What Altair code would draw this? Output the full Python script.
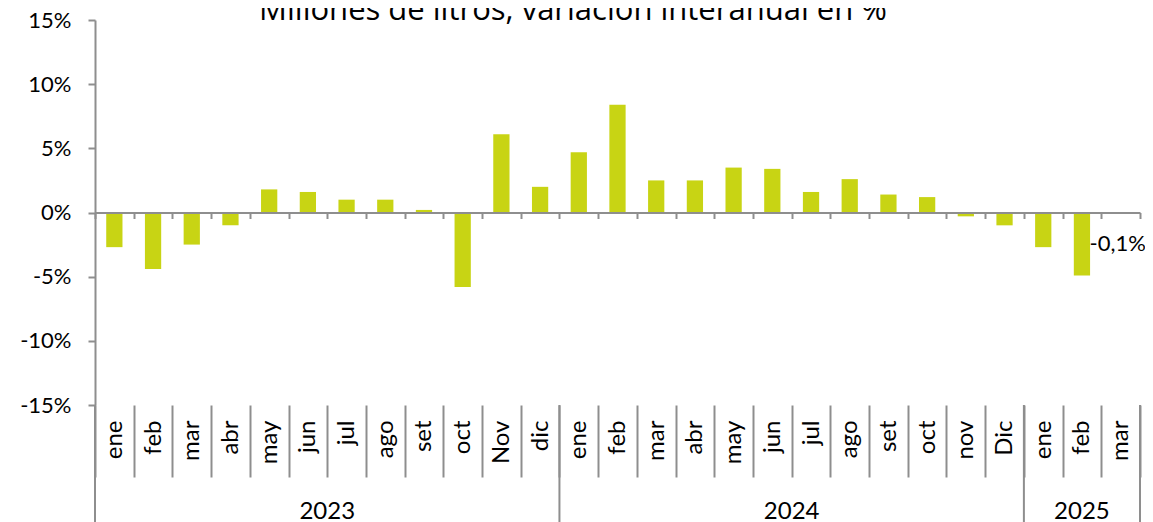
import altair as alt
import pandas as pd

# ---- data ----
months_2023 = ["ene", "feb", "mar", "abr", "may", "jun", "jul", "ago", "set", "oct", "Nov", "dic"]
months_2024 = ["ene", "feb", "mar", "abr", "may", "jun", "jul", "ago", "set", "oct", "nov", "Dic"]
months_2025 = ["ene", "feb", "mar"]
values_2023 = [-2.7, -4.4, -2.5, -1.0, 1.8, 1.6, 1.0, 1.0, 0.2, -5.8, 6.1, 2.0]
values_2024 = [4.7, 8.4, 2.5, 2.5, 3.5, 3.4, 1.6, 2.6, 1.4, 1.2, -0.3, -1.0]
values_2025 = [-2.7, -4.9, -0.1]
years = ["2023", "2024", "2025"]
y_ticks = [-15, -10, -5, 0, 5, 10, 15]
title_text = "Millones de litros, variación interanual en %"

# ---- styling ----
FONT = "Lato"
TITLE_FONT = "Open Sans"
BAR = "#C8D414"
GRAY = "#8E8E8E"
W, H = 1045, 385

rows = []
idx = 0
for yr, months, vals in zip(years, [months_2023, months_2024, months_2025],
                            [values_2023, values_2024, values_2025]):
    for m, v in zip(months, vals):
        rows.append({"cat": f"{m} {yr}", "month": m, "year": yr, "idx": idx,
                     "pos": idx + 0.5, "val": v,
                     "lab": f"{v:.1f}%".replace(".", ",")})
        idx += 1
df = pd.DataFrame(rows)
cats = list(df["cat"])
n = len(cats)

bounds = [0]
for months in [months_2023, months_2024, months_2025]:
    bounds.append(bounds[-1] + len(months))
yr_df = pd.DataFrame({"year": years,
                      "mid": [(bounds[i] + bounds[i + 1]) / 2 for i in range(3)]})
rule_df = pd.DataFrame({"b": bounds})

band = alt.Scale(domain=cats, paddingInner=0, paddingOuter=0)
quant = alt.Scale(domain=[0, n], nice=False, zero=False)
yscale = alt.Scale(domain=[-15, 15], nice=False, zero=False)

bars = alt.Chart(df).mark_bar(color=BAR, width=alt.RelativeBandSize(0.42)).encode(
    x=alt.X("cat:N", scale=band, sort=cats,
            axis=alt.Axis(orient="bottom", tickBand="extent", tickSize=72,
                          tickColor=GRAY, tickWidth=2, domain=False,
                          labelAngle=-90, labelPadding=-57,
                          labelAlign="right", labelBaseline="middle",
                          labelExpr="datum.value ? split(datum.value, ' ')[0] : ''",
                          labelFontSize=24, labelColor="black", labelFont=FONT,
                          title=None)),
    y=alt.Y("val:Q", scale=yscale,
            axis=alt.Axis(values=y_ticks, labelExpr="datum.value + '%'",
                          tickSize=7, tickColor=GRAY, tickWidth=2,
                          domainColor=GRAY, domainWidth=2,
                          labelFontSize=22, labelPadding=17, labelColor="black",
                          labelFont=FONT, title=None, grid=False)),
)

zero_axis = alt.Chart(df).mark_bar(opacity=0).encode(
    x=alt.X("cat:N", scale=band, sort=cats,
            axis=alt.Axis(orient="bottom", offset=-(H / 2), tickBand="extent",
                          tickSize=6, tickColor=GRAY, tickWidth=2,
                          domainColor=GRAY, domainWidth=2, labels=False,
                          title=None, zindex=1)),
    y=alt.Y("val:Q", scale=yscale),
)

year_rules = alt.Chart(rule_df).mark_rule(color=GRAY, strokeWidth=2).encode(
    x=alt.X("b:Q", scale=quant, axis=None),
    y=alt.value(H),
    y2=alt.value(H + 130),
)

year_text = alt.Chart(yr_df).mark_text(font=FONT, fontSize=24, color="black",
                                       baseline="alphabetic").encode(
    x=alt.X("mid:Q", scale=quant, axis=None),
    y=alt.value(H + 114),
    text="year:N",
)

last_label = alt.Chart(df.tail(1)).mark_text(font=FONT, fontSize=22, color="black",
                                             dy=30, dx=-3).encode(
    x=alt.X("pos:Q", scale=quant, axis=None),
    y=alt.Y("val:Q", scale=yscale),
    text="lab:N",
)

title = alt.Chart(pd.DataFrame({"t": [title_text]})).mark_text(
    font=TITLE_FONT, fontSize=31, color="black", baseline="alphabetic", align="center"
).encode(x=alt.value(478), y=alt.value(0), text="t:N")

chart = alt.layer(bars, zero_axis, year_rules, year_text, last_label, title).resolve_scale(
    x="independent"
).resolve_axis(x="independent").properties(
    width=W, height=H,
    autosize=alt.AutoSizeParams(type="none"),
    padding={"left": 87, "top": 12, "right": 5, "bottom": 117},
).configure_view(stroke=None)

chart.save("out.html", embed_options={"renderer": "svg", "actions": False})
